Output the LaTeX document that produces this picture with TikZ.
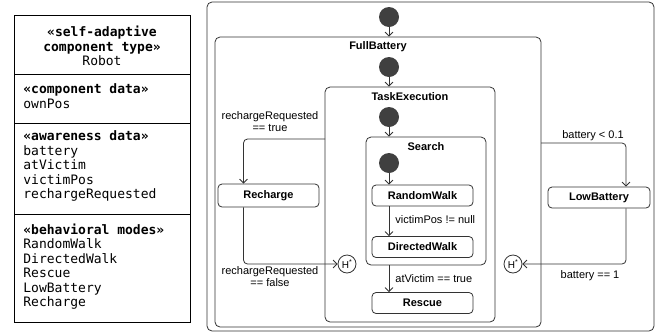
\documentclass[tikz,border=0pt]{standalone}
\usepackage{fontspec}
\setmainfont{Liberation Sans}
\newfontfamily\umlmono{DejaVu Sans Mono}
\usetikzlibrary{arrows.meta}
\definecolor{linec}{gray}{0.2}
\definecolor{dotc}{gray}{0.25}

\begin{document}
\begin{tikzpicture}[x=1pt,y=-1pt, line width=0.8pt,
  region/.style={draw=linec, rounded corners=5pt, inner sep=0pt},
  mode/.style={draw=linec, rounded corners=4pt, font=\fontsize{11}{13}\selectfont\bfseries,
    inner sep=0pt, minimum width=101pt, minimum height=21pt},
  start/.style={circle, fill=dotc, inner sep=0pt, minimum size=20pt},
  hist/.style={circle, draw=linec, fill=white, inner sep=0pt, minimum size=18pt,
    font=\fontsize{10}{12}\selectfont},
  trans/.style={draw=linec, rounded corners=4pt, -{Straight Barb[length=4pt,width=8pt]}},
  guard/.style={font=\fontsize{11}{12}\selectfont, align=center, inner sep=0pt},
  regtitle/.style={font=\fontsize{11}{13}\selectfont\bfseries, inner sep=0pt},
  classtext/.style={font=\umlmono\fontsize{13}{14.5}\selectfont, align=left, inner sep=0pt}]
\useasboundingbox (0,0) rectangle (664,333);

% component type
\draw (14,15) rectangle (190,322);
\draw (14,74) -- (190,74);
\draw (14,123) -- (190,123);
\draw (14,214) -- (190,214);
\node[classtext, align=center] (ctype) at (102,46)
  {\bfseries «self-adaptive\\\bfseries component type»\\Robot};
\node[classtext, anchor=north west] (cdata) at (23,83.5)
  {\bfseries «component data»\\ownPos};
\node[classtext, anchor=north west] (adata) at (23,130.5)
  {\bfseries «awareness data»\\battery\\atVictim\\victimPos\\rechargeRequested};
\node[classtext, anchor=north west] (bmodes) at (23,223.5)
  {\bfseries «behavioral modes»\\RandomWalk\\DirectedWalk\\Rescue\\LowBattery\\Recharge};

% regions
\node[region, minimum width=447pt, minimum height=329pt] (robot) at (430.5,166.5) {};
\node[region, minimum width=326pt, minimum height=290pt] (full) at (378,182) {};
\node[region, minimum width=170pt, minimum height=235pt] (task) at (410,204.5) {};
\node[region, minimum width=120pt, minimum height=128pt] (search) at (426,201) {};
\node[regtitle] (fulltitle) at (378,47) {FullBattery};
\node[regtitle] (tasktitle) at (410,97) {TaskExecution};
\node[regtitle] (searchtitle) at (426,147) {Search};

% initial states
\node[start] (i0) at (389,17) {};
\node[start] (i1) at (389,67) {};
\node[start] (i2) at (389,117) {};
\node[start] (i3) at (389,163) {};

% modes
\node[mode] (rwalk) at (422.5,195.5) {RandomWalk};
\node[mode] (dwalk) at (422.5,247) {DirectedWalk};
\node[mode] (rescue) at (422.5,303) {Rescue};
\node[mode, minimum height=23pt] (recharge) at (268.5,195.5) {Recharge};
\node[mode, minimum width=102pt] (low) at (599,197.5) {LowBattery};
\node[hist] (h1) at (347,264) {H\textsuperscript{*}};
\node[hist] (h2) at (513,264) {H\textsuperscript{*}};

\coordinate (tout) at (325,139);
\coordinate (fout) at (541,143);

% transitions
\draw[trans] (i0) -- (i0 |- full.north);
\draw[trans] (i1) -- (i1 |- task.north);
\draw[trans] (i2) -- (i2 |- search.north);
\draw[trans] (i3) -- (i3 |- rwalk.north);
\draw[trans] (i3 |- rwalk.south) -- (i3 |- dwalk.north);
\draw[trans] (i3 |- search.south) -- (i3 |- rescue.north);
\draw[trans] (tout) -| ([xshift=-25pt]recharge.north);
\draw[trans] ([xshift=-25pt]recharge.south) |- (h1.west);
\draw[trans] (fout) -| ([xshift=27pt]low.north);
\draw[trans] ([xshift=27pt]low.south) |- (h2.east);

% guards
\node[guard] (g1) at (270,122) {rechargeRequested\\== true};
\node[guard] (g2) at (270,276.5) {rechargeRequested\\== false};
\node[guard, anchor=west] (g3) at (395,220) {victimPos != null};
\node[guard, anchor=west] (g4) at (395,279) {atVictim == true};
\node[guard] (g5) at (593,136) {battery < 0.1};
\node[guard] (g6) at (590,276) {battery == 1};
\end{tikzpicture}
\end{document}
